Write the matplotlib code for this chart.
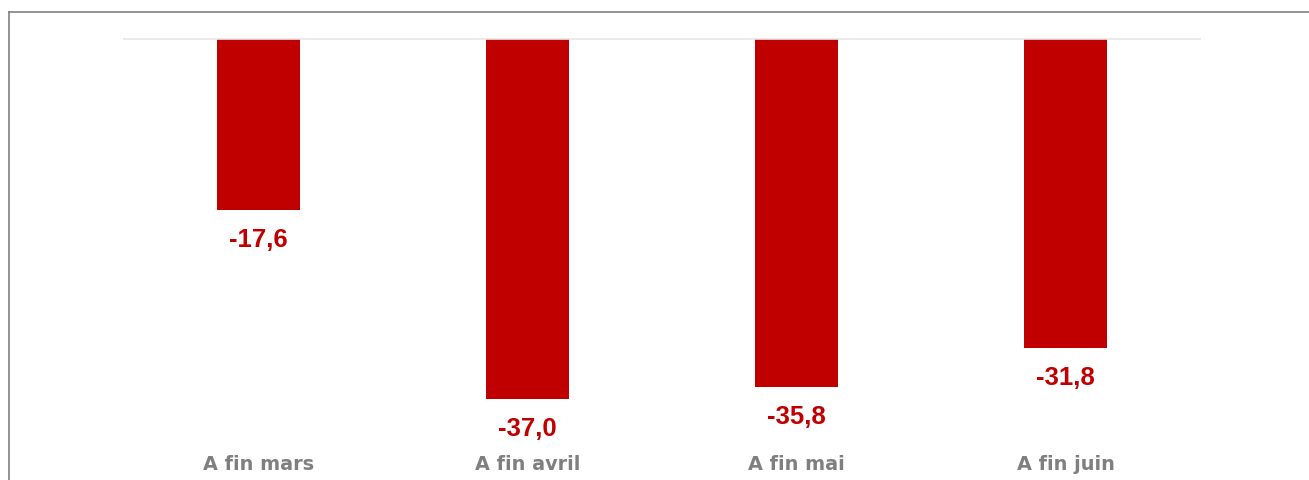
import matplotlib.pyplot as plt
from matplotlib.lines import Line2D
import numpy as np

categories = ["A fin mars", "A fin avril", "A fin mai", "A fin juin"]
values = [-17.6, -37.0, -35.8, -31.8]
value_labels = ["-17,6", "-37,0", "-35,8", "-31,8"]

bar_color = "#C00000"
label_grey = "#7F7F7F"

fig = plt.figure(figsize=(13.09, 4.81), dpi=100)
ax = fig.add_axes([124 / 1309, (481 - 440) / 481, (1200 - 124) / 1309, (440 - 39.5) / 481])

x = np.arange(len(categories))
bars = ax.bar(x, values, width=0.31, color=bar_color)

ax.set_xlim(-0.5, len(categories) - 0.5)
ax.set_ylim(-41.1, 0)

## Value labels under each bar
for xi, v, txt in zip(x, values, value_labels):
    ax.annotate(txt, (xi, v), xytext=(0, -29), textcoords="offset pixels",
                ha="center", va="center", color=bar_color,
                fontsize=18.5, fontweight="bold", family="Liberation Sans")

ax.set_xticks(x)
ax.set_xticklabels(categories, fontsize=13.9, fontweight="bold",
                   color=label_grey, family="DejaVu Sans")
ax.tick_params(axis="x", length=0, pad=10.5)
ax.set_yticks([])

for side in ["left", "right", "bottom"]:
    ax.spines[side].set_visible(False)
ax.spines["top"].set_color("#E6E6E6")
ax.spines["top"].set_linewidth(1.2)

## Outer frame (left and top edges only)
fx = 8.5 / 1309
fy = 1 - 12.5 / 481
fig.add_artist(Line2D([fx, fx], [0, fy], color="#808080", lw=1.2, transform=fig.transFigure))
fig.add_artist(Line2D([fx, 1], [fy, fy], color="#808080", lw=1.2, transform=fig.transFigure))

fig.savefig("out.png", dpi=100)
